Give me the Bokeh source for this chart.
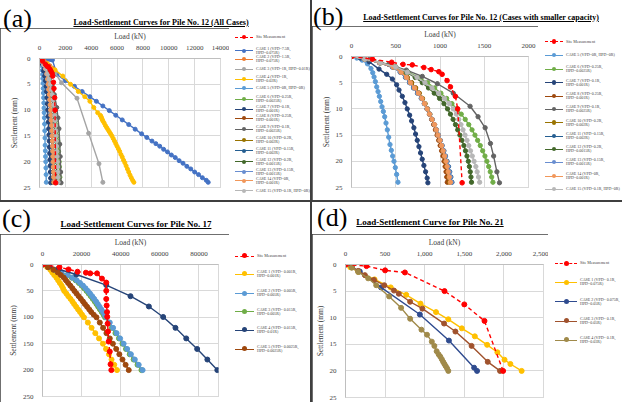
from bokeh.plotting import figure
from bokeh.models import Range1d, FixedTicker, NumeralTickFormatter, Div
from bokeh.layouts import row, column
from bokeh.embed import file_html
from bokeh.resources import INLINE

# ======================= DATA =======================
# ---- Pile No. 12 ----
P12_SITE_LOAD = [0, 236, 454, 582, 687, 818, 900, 987, 1024, 1080, 1118, 1174, 1200, 1250]
P12_SITE_SETT = [0, 0.5, 1.1, 1.5, 1.6, 2.1, 2.5, 2.9, 3.4, 4.6, 5.8, 7.6, 10.0, 24.1]

P12_C1_LOAD = [0, 150, 300, 450, 600, 750, 900, 1000, 1350, 2000, 2700, 3300, 3900, 4400, 4900, 5400,
               5900, 6400, 6900, 7400, 7900, 8300, 8700, 9000, 9300, 9600, 9900, 10200, 10500, 10800,
               11100, 11400, 11700, 12000, 12300, 12600, 12900, 13050]
P12_C1_SETT = [0, 0.03, 0.06, 0.09, 0.12, 0.15, 0.2, 0.3, 3.1, 4.3, 5.4, 6.4, 7.4, 8.3, 9.2, 10.1,
               11.0, 11.9, 12.8, 13.7, 14.6, 15.3, 16.0, 16.5, 17.0, 17.6, 18.1, 18.7, 19.2, 19.8,
               20.3, 20.9, 21.4, 22.0, 22.5, 23.1, 23.6, 24.0]
P12_C2_LOAD = [0, 200, 400, 600, 800, 1000, 1200]
P12_C2_SETT = [0, 0.3, 0.6, 1.0, 1.4, 1.9, 2.4]
P12_C3_LOAD = [0, 400, 800, 1200, 1700, 2900, 3800, 4600, 4900]
P12_C3_SETT = [0, 0.8, 1.7, 2.8, 4.7, 7.7, 14.5, 20.4, 24.0]
P12_C4_LOAD = [0, 600, 1200, 1800, 2400, 3000, 3500, 3900, 4200, 4500, 4700, 4750, 4800, 4850, 4900,
               5000, 5100, 5200, 5300, 5400, 5500, 5600, 5700, 5800, 5900, 6000, 6100, 6200, 6300,
               6400, 6500, 6600, 6700, 6800, 6900, 7000, 7100, 7200, 7300]
P12_C4_SETT = [0, 1.0, 2.2, 3.4, 5.0, 6.4, 7.4, 8.3, 9.5, 10.5, 11.0, 11.2, 11.5, 11.8, 12.1,
               12.5, 13.0, 13.4, 13.8, 14.2, 14.6, 15.0, 15.5, 16.0, 16.5, 17.0, 17.5, 18.0, 18.6,
               19.1, 19.7, 20.2, 20.8, 21.4, 22.0, 22.6, 23.1, 23.6, 24.0]
P12_C5_LOAD = [0, 60, 120, 180, 220, 240, 255, 270, 285, 300, 315, 330, 345, 360, 375, 390, 405, 420,
               435, 450, 465, 480, 495, 510, 525]
P12_C5_SETT = [0, 0.3, 0.7, 1.4, 2.3, 3.1, 3.9, 4.8, 5.8, 6.7, 7.6, 8.6, 9.6, 10.5, 11.5, 12.7, 14.0,
               15.4, 16.8, 17.9, 19.0, 20.0, 21.2, 22.5, 24.0]
P12_C7_LOAD = [0, 100, 200, 311, 398, 462, 510, 537, 574, 604, 630, 657, 679, 705, 724, 743, 762, 780,
               799, 818, 837, 855, 863]
P12_C7_SETT = [0, 0.3, 1.0, 2.4, 3.4, 4.3, 5.4, 6.4, 7.6, 8.8, 10.0, 11.2, 12.3, 13.6, 14.8, 16.0,
               17.2, 18.4, 19.6, 20.8, 22.0, 23.2, 24.1]
P12_C9_LOAD = [0, 200, 420, 620, 800, 970, 1150, 1340, 1430, 1510, 1570, 1606, 1643, 1672]
P12_C9_SETT = [0, 0.6, 1.5, 2.6, 3.8, 5.2, 7.0, 9.5, 11.5, 13.6, 16.6, 19.0, 22.0, 24.1]
# cases read at common settlement levels
P12_SETT_GRID = [0, 0.5, 1.2, 2, 3, 4, 5, 6, 7, 8, 9, 10, 11, 12, 13, 14, 15, 16, 17, 18, 19, 20,
                 21, 22, 23, 24]
P12_C6_LOAD = [0, 150, 330, 500, 640, 760, 860, 940, 1010, 1075, 1135, 1190, 1240, 1285, 1325, 1362,
               1395, 1425, 1455, 1482, 1508, 1530, 1550, 1568, 1584, 1598]
P12_C8_LOAD = [0, 150, 320, 470, 565, 630, 680, 725, 765, 800, 828, 855, 880, 905, 928, 948, 967, 985,
               1002, 1018, 1033, 1046, 1058, 1068, 1076, 1082]
P12_C10_LOAD = [0, 150, 320, 470, 565, 628, 676, 722, 764, 802, 832, 860, 886, 912, 938, 959, 980,
                1000, 1018, 1036, 1052, 1067, 1080, 1092, 1102, 1110]
P12_C11_LOAD = [0, 150, 315, 460, 550, 610, 655, 700, 745, 788, 822, 853, 882, 910, 937, 960, 982,
                1004, 1024, 1044, 1063, 1080, 1096, 1110, 1123, 1135]
P12_C12_LOAD = [0, 150, 330, 500, 620, 720, 800, 870, 935, 995, 1045, 1085, 1118, 1148, 1175, 1200,
                1225, 1248, 1270, 1288, 1305, 1320, 1332, 1342, 1350, 1356]
P12_C13_LOAD = [0, 150, 318, 465, 555, 615, 660, 705, 750, 792, 825, 856, 884, 911, 938, 960, 981,
                1002, 1021, 1040, 1058, 1075, 1090, 1104, 1116, 1128]
P12_C14_LOAD = [0, 150, 320, 470, 560, 620, 665, 712, 755, 795, 825, 855, 882, 910, 938, 958, 978,
                1000, 1018, 1035, 1052, 1068, 1080, 1092, 1105, 1118]
P12_C15_LOAD = [0, 150, 330, 500, 630, 740, 830, 910, 985, 1050, 1105, 1150, 1185, 1212, 1237, 1260,
                1283, 1305, 1325, 1345, 1365, 1385, 1405, 1420, 1435, 1448]

P12_LABELS = ["Site Measurement",
              "CASE 1 (VPD=7.5R,\nHPD=0.075R)", "CASE 2 (VPD=1.5R,\nHPD=0.075R)",
              "CASE 3 (VPD=1R, HPD=0.01R)", "CASE 4 (VPD=1R,\nHPD=0.02R)",
              "CASE 5 (VPD=0R, HPD=0R)", "CASE 6 (VPD=0.25R,\nHPD=0.0025R)",
              "CASE 7 (VPD=0.1R,\nHPD=0.001R)", "CASE 8 (VPD=0.25R,\nHPD=0.001R)",
              "CASE 9 (VPD=0.1R,\nHPD=0.0025R)", "CASE 10 (VPD=0.2R,\nHPD=0.002R)",
              "CASE 11 (VPD=0.15R,\nHPD=0.002R)", "CASE 12 (VPD=0.2R,\nHPD=0.0015R)",
              "CASE 13 (VPD=0.15R,\nHPD=0.0015R)", "CASE 14 (VPD=0R,\nHPD=0.001R)",
              "CASE 15 (VPD=0.1R, HPD=0R)"]
P12_COLORS = ["#FF0000", "#4472C4", "#ED7D31", "#A5A5A5", "#FFC000", "#5B9BD5", "#70AD47",
              "#264478", "#9E480E", "#636363", "#997300", "#255E91", "#43682B", "#698ED0",
              "#F1975A", "#B7B7B7"]

# ---- Pile No. 17 ----
P17_SITE_LOAD = [0, 8700, 13300, 17900, 22200, 24400, 27900, 30400, 32600, 32600, 32600, 32800, 33000,
                 33100, 33300, 33500, 33800, 34400, 34800, 35200]
P17_SITE_SETT = [0, 5.0, 9.3, 13.7, 15.5, 16.8, 16.8, 26.7, 34.2, 49.7, 65.2, 77.6, 90, 99, 112, 127,
                 146, 165, 189, 200]
P17_SETT_GRID = [0, 5, 10, 15, 20, 25, 30, 35, 40, 45, 50, 55, 60, 65, 70, 75, 80, 85, 90, 95, 100,
                 110, 120, 130, 140, 150, 160, 170, 180, 190, 200]
P17_C1_LOAD = [0, 2400, 4000, 5000, 6000, 7100, 8000, 8900, 9800, 10500, 11100, 12200, 13200, 14300,
               15300, 16200, 17200, 18200, 19200, 20200, 21200, 23200, 25100, 27000, 28900, 30900,
               32500, 34000, 35300, 36700, 38100]
P17_C2_LOAD = [0, 3000, 6300, 9700, 12900, 15400, 17500, 19200, 20700, 22000, 23200, 24300, 25400,
               26400, 27400, 28300, 29200, 30100, 31000, 31800, 32600, 34400, 36100, 37900, 39700,
               41500, 43300, 45200, 47200, 49200, 51200]
P17_C3_LOAD = [0, 3000, 6200, 9500, 12600, 15000, 17000, 18600, 20000, 21300, 22500, 23600, 24700,
               25700, 26700, 27600, 28500, 29400, 30300, 31200, 32000, 33800, 35500, 37300, 39100,
               40900, 42700, 44600, 46600, 48600, 50600]
P17_C5_LOAD = [0, 2800, 5600, 7800, 9400, 10900, 12000, 13100, 14200, 15300, 16300, 17400, 18500,
               19600, 20700, 21700, 22800, 23900, 24900, 26200, 27600, 29300, 31000, 32700, 34400,
               36000, 37700, 39300, 40900, 42500, 44100]
P17_C4_LOAD = [0, 3400, 8200, 17300, 32600, 45000, 54400, 61700, 68000, 73500, 79100, 84300, 89400]
P17_C4_SETT = [0, 3, 9, 19, 39, 60, 79.5, 99.4, 120, 140, 160, 180, 200]
P17_LABELS = ["Site Measurement", "CASE 1 (VPD= 0.001R,\nHPD=0.001R)",
              "CASE 2 (VPD= 0.005R,\nHPD=0.005R)", "CASE 3 (VPD= 0.015R,\nHPD=0.005R)",
              "CASE 4 (VPD= 0.015R,\nHPD=0.01R)", "CASE 5 (VPD= 0.0025R,\nHPD=0.0025R)"]
P17_COLORS = ["#FF0000", "#FFC000", "#5B9BD5", "#70AD47", "#264478", "#9E480E"]

# ---- Pile No. 21 ----
P21_SITE_LOAD = [0, 265, 500, 750, 1250, 1500, 1755, 1990]
P21_SITE_SETT = [0, 0.3, 1.1, 1.5, 5.0, 7.5, 10.6, 20.0]
P21_C1_LOAD = [0, 60, 163, 367, 571, 767, 947, 1143, 1298, 1469, 1633, 1788, 1918, 2008, 2082, 2224]
P21_C1_SETT = [0, 0.5, 1.4, 2.8, 4.3, 5.7, 7.35, 8.95, 10.3, 12.0, 13.5, 15.1, 16.5, 17.9, 18.7, 20.0]
P21_C2_LOAD = [0, 80, 180, 449, 939, 1306, 1624, 1661]
P21_C2_SETT = [0, 0.5, 1.3, 4.3, 9.4, 14.3, 19.4, 20.0]
P21_C3_LOAD = [0, 80, 160, 245, 359, 490, 612, 673, 816, 971, 1245, 1388, 1592, 1796, 1951]
P21_C3_SETT = [0, 0.5, 1.2, 2.0, 2.9, 3.9, 4.9, 5.5, 7.0, 8.3, 11.1, 12.6, 15.3, 18.3, 20.0]
P21_C4_LOAD = [0, 80, 160, 286, 388, 551, 702, 816, 959, 1029, 1090, 1122, 1151, 1176, 1196, 1216,
               1233, 1249, 1265, 1282, 1298]
P21_C4_SETT = [0, 0.6, 1.4, 2.6, 3.9, 6.0, 8.15, 10.2, 12.25, 13.2, 14.5, 15.3, 16.3, 16.9, 17.3,
               17.8, 18.3, 18.7, 19.1, 19.5, 20.0]
P21_LABELS = ["Site Measurement", "CASE 1 (VPD= 0.1R,\nHPD=0.075R)", "CASE 2 (VPD= 0.075R,\nHPD=0.05R)",
              "CASE 3 (VPD= 0.1R,\nHPD=0.05R)", "CASE 4 (VPD= 0.1R,\nHPD=0.03R)"]
P21_COLORS = ["#FF0000", "#FFC000", "#2F4B8F", "#A0522D", "#A08A4A"]

# ======================= STYLE / HELPERS =======================
FONT = "Liberation Serif"
GRID = "#D9D9D9"
TXT = "#404040"


def make_panel(info, xmax, xticks, ymax, yticks, xfmt=None):
    W, H, L, T, FW, FH = info["W"], info["H"], info["L"], info["T"], info["FW"], info["FH"]
    p = figure(width=W, height=H, x_range=Range1d(0, xmax), y_range=Range1d(ymax, 0),
               x_axis_location="above", output_backend="svg", toolbar_location=None,
               min_border_left=L, min_border_top=T, min_border_right=W - L - FW,
               min_border_bottom=H - T - FH, outline_line_color=GRID,
               background_fill_color="white", border_fill_color="white")
    p.xaxis.ticker = FixedTicker(ticks=xticks)
    p.yaxis.ticker = FixedTicker(ticks=yticks)
    p.xgrid.ticker = FixedTicker(ticks=xticks)
    p.ygrid.ticker = FixedTicker(ticks=yticks)
    p.xgrid.grid_line_color = GRID
    p.ygrid.grid_line_color = GRID
    if xfmt is not None:
        p.xaxis.formatter = xfmt
    p.xaxis.axis_label = "Load (kN)"
    p.yaxis.axis_label = "Settlement (mm)"
    for ax in (p.xaxis, p.yaxis):
        ax.axis_line_color = "#BFBFBF"
        ax.major_tick_line_color = None
        ax.minor_tick_line_color = None
        ax.major_label_text_font = FONT
        ax.major_label_text_font_size = "7px"
        ax.major_label_text_color = TXT
        ax.axis_label_text_font = FONT
        ax.axis_label_text_font_size = "7.5px"
        ax.axis_label_text_font_style = "normal"
        ax.axis_label_text_color = TXT
        ax.major_label_standoff = 3
        ax.axis_label_standoff = 2
    return p


def series(p, xs, ys, color, size, dashed=False):
    assert len(xs) == len(ys)
    p.line(xs, ys, line_color=color, line_width=1.4, line_dash="4 3" if dashed else "solid")
    p.scatter(xs, ys, marker="circle", size=size, fill_color=color, line_color=color)


def legend_div(width, height, labels, colors, msize, centers, left_off, gw):
    """Legend block beside the plot area (entries placed as in the reference)."""
    r = msize / 2.0
    parts = ['<div style="position:relative;width:%dpx;height:%dpx;overflow:hidden;">' % (width, height)]
    for k, (lab, col) in enumerate(zip(labels, colors)):
        style = "dashed" if k == 0 else "solid"
        text = lab.replace("\n", "<br>")
        parts.append(
            '<div style="position:absolute;left:%spx;top:%spx;height:10px;display:flex;'
            'align-items:center;white-space:nowrap;">'
            '<span style="position:relative;display:inline-block;width:%spx;height:0;'
            'border-top:1.4px %s %s;">'
            '<span style="position:absolute;left:%spx;top:%spx;width:%spx;height:%spx;'
            'border-radius:50%%;background:%s;"></span></span>'
            '<span style="margin-left:3px;font-family:\'%s\';font-size:4px;line-height:4px;'
            'color:%s;">%s</span></div>'
            % (left_off, round(centers[k] - 5, 1), gw, style, col,
               gw / 2.0 - r, -r - 0.7, 2 * r, 2 * r, col, FONT, TXT, text))
    parts.append('</div>')
    return Div(text="".join(parts), width=width, height=height, margin=0,
               styles={"background-color": "white"})


def header(width, height, tag, tag_left, tag_top, title, title_cx, title_top, title_size):
    html = (
        '<div style="position:relative;width:%dpx;height:%dpx;">'
        '<span style="position:absolute;left:%spx;top:%spx;font-family:\'%s\';font-size:26px;'
        'line-height:26px;color:#000;white-space:nowrap;">%s</span>'
        '<span style="position:absolute;left:%spx;top:%spx;transform:translateX(-50%%);'
        'font-family:\'%s\';font-size:%spx;line-height:%spx;font-weight:bold;'
        'text-decoration:underline;color:#000;white-space:nowrap;">%s</span></div>'
        % (width, height, tag_left, tag_top, FONT, tag, title_cx, title_top, FONT,
           title_size, title_size, title)
    )
    return Div(text=html, width=width, height=height, margin=0,
               styles={"background-color": "white", "overflow": "visible", "z-index": "5"})


# ======================= PANEL (a) =======================
DA = 28
IA = dict(W=229, H=200 - DA, L=39, T=52 - DA, FW=181, FH=135)
pa = make_panel(IA, 14000, [0, 2000, 4000, 6000, 8000, 10000, 12000, 14000], 25, [0, 5, 10, 15, 20, 25])
a_data = [(P12_SITE_LOAD, P12_SITE_SETT), (P12_C1_LOAD, P12_C1_SETT), (P12_C2_LOAD, P12_C2_SETT),
          (P12_C3_LOAD, P12_C3_SETT), (P12_C4_LOAD, P12_C4_SETT), (P12_C5_LOAD, P12_C5_SETT),
          (P12_C6_LOAD, P12_SETT_GRID), (P12_C7_LOAD, P12_C7_SETT), (P12_C8_LOAD, P12_SETT_GRID),
          (P12_C9_LOAD, P12_C9_SETT), (P12_C10_LOAD, P12_SETT_GRID), (P12_C11_LOAD, P12_SETT_GRID),
          (P12_C12_LOAD, P12_SETT_GRID), (P12_C13_LOAD, P12_SETT_GRID), (P12_C14_LOAD, P12_SETT_GRID),
          (P12_C15_LOAD, P12_SETT_GRID)]
for i in list(range(1, 16)) + [0]:
    xs, ys = a_data[i]
    series(pa, xs, ys, P12_COLORS[i], 4.5 if i == 0 else 4, dashed=(i == 0))
a_cy = [37.3, 50.7, 59.3, 69, 79, 88.3, 99, 109, 118.3, 129, 140, 150.7, 161.7, 171.7, 180.7, 190.7]
la = legend_div(81, 200 - DA, P12_LABELS, P12_COLORS, 4, [c - DA for c in a_cy], 6, 18)
ha = header(310, DA, "(a)", 3, 6, "Load-Settlement Curves for Pile No. 12 (All Cases)", 161, 19, 8.1)

# ======================= PANEL (b) =======================
DB = 26
IB = dict(W=226, H=200 - DB, L=39, T=48 - DB, FW=177, FH=139)
pb = make_panel(IB, 2000, [0, 500, 1000, 1500, 2000], 25, [0, 5, 10, 15, 20, 25])
b_idx = list(range(5, 16))
for i in b_idx + [0]:
    xs, ys = a_data[i]
    series(pb, xs, ys, P12_COLORS[i], 4.6 if i == 0 else 4.3, dashed=(i == 0))
b_cy = [41.7, 55, 69.3, 82.7, 96, 109.3, 122.7, 136, 149.3, 162.3, 176, 189]
lb = legend_div(84, 200 - DB, [P12_LABELS[i] for i in [0] + b_idx], [P12_COLORS[i] for i in [0] + b_idx],
                4.3, [c - DB for c in b_cy], 7, 18)
hb = header(310, DB, "(b)", 1, 4, "Load-Settlement Curves for Pile No. 12 (Cases with smaller capacity)",
            169, 14, 8)

# ======================= PANEL (c) =======================
DC = 32
IC = dict(W=229, H=200 - DC, L=42, T=60 - DC, FW=176, FH=134)
pc = make_panel(IC, 90000, [0, 20000, 40000, 60000, 80000], 250, [0, 50, 100, 150, 200, 250])
c_data = [(P17_SITE_LOAD, P17_SITE_SETT), (P17_C1_LOAD, P17_SETT_GRID), (P17_C2_LOAD, P17_SETT_GRID),
          (P17_C3_LOAD, P17_SETT_GRID), (P17_C4_LOAD, P17_C4_SETT), (P17_C5_LOAD, P17_SETT_GRID)]
for i in [1, 3, 2, 4, 5, 0]:
    xs, ys = c_data[i]
    series(pc, xs, ys, P17_COLORS[i], 5, dashed=(i == 0))
c_cy = [54, 72, 91.3, 109.7, 128, 147]
lc = legend_div(81, 200 - DC, P17_LABELS, P17_COLORS, 5, [c - DC for c in c_cy], 6, 19)
hc = header(310, DC, "(c)", 2, 4, "Load-Settlement Curves for Pile No. 17", 136, 17.5, 9)

# ======================= PANEL (d) =======================
DD = 32
ID = dict(W=236, H=200 - DD, L=28, T=59 - DD, FW=203, FH=136)
pd_ = make_panel(ID, 2500, [0, 500, 1000, 1500, 2000, 2500], 25, [0, 5, 10, 15, 20, 25],
                 xfmt=NumeralTickFormatter(format="0,0"))
d_data = [(P21_SITE_LOAD, P21_SITE_SETT), (P21_C1_LOAD, P21_C1_SETT), (P21_C2_LOAD, P21_C2_SETT),
          (P21_C3_LOAD, P21_C3_SETT), (P21_C4_LOAD, P21_C4_SETT)]
for i in [1, 2, 3, 4, 0]:
    xs, ys = d_data[i]
    series(pd_, xs, ys, P21_COLORS[i], 5, dashed=(i == 0))
d_cy = [61.3, 80.3, 99.7, 119, 138]
ld = legend_div(74, 200 - DD, P21_LABELS, P21_COLORS, 5, [c - DD for c in d_cy], 7, 22)
hd = header(310, DD, "(d)", 5, 3, "Load-Settlement Curve for Pile No. 21", 118, 15.5, 9)


def panel(h, p, l):
    return column(h, row(p, l, spacing=0), spacing=0)


layout = column(
    row(panel(ha, pa, la), panel(hb, pb, lb), spacing=2),
    row(panel(hc, pc, lc), panel(hd, pd_, ld), spacing=2),
    spacing=2, styles={"background-color": "#3F3F3F"})

open("out.html", "w").write(file_html(layout, INLINE))
